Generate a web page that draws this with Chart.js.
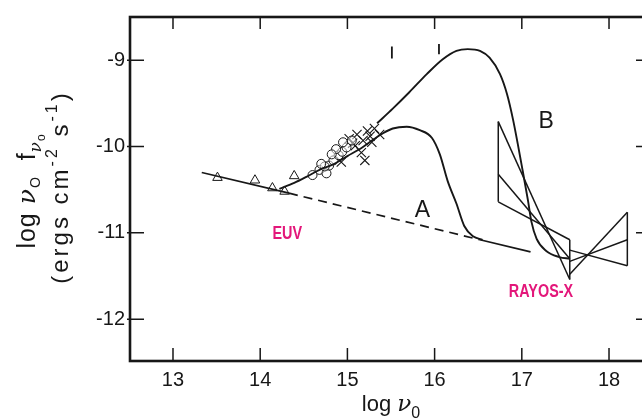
<!DOCTYPE html>
<html>
<head>
<meta charset="utf-8">
<script src="https://cdn.jsdelivr.net/npm/chart.js@4.4.0/dist/chart.umd.min.js"></script>
<style>
  html, body { margin: 0; padding: 0; background: #fff; overflow: hidden; }
  #wrap { width: 660px; height: 418px; }
</style>
</head>
<body>
<div id="wrap"><canvas id="sed"></canvas></div>
<script>
// axis ticks
const xTicks = [13, 14, 15, 16, 17, 18];
const yTicks = [-12, -11, -10, -9];

// straight power law: solid, dashed, solid
const plLeft = [[13.33, -10.30], [14.33, -10.54]];
const plDash = [[14.33, -10.54], [16.52, -11.08]];
const plRight = [[16.52, -11.08], [17.10, -11.22]];

// curve A (lower bump)
const curveA = [[14.22, -10.49], [14.39, -10.42], [14.53, -10.35], [14.68, -10.27], [14.83, -10.21],
  [15.00, -10.11], [15.17, -10.01], [15.31, -9.91], [15.40, -9.85], [15.52, -9.79], [15.68, -9.77],
  [15.83, -9.81], [15.97, -9.90], [16.06, -10.09], [16.15, -10.40], [16.25, -10.66], [16.34, -10.92],
  [16.44, -11.04], [16.55, -11.08]];

// curve B (big bump)
const curveB = [[15.34, -9.73], [15.52, -9.56], [15.71, -9.37], [15.91, -9.16], [16.09, -8.99],
  [16.25, -8.89], [16.38, -8.87], [16.52, -8.89], [16.63, -8.97], [16.75, -9.16], [16.83, -9.39],
  [16.90, -9.69], [17.01, -10.28], [17.07, -10.62], [17.11, -10.87], [17.17, -11.07], [17.28, -11.21],
  [17.43, -11.28], [17.55, -11.30]];

// x-ray bowties
const bowtie1 = [
  [[16.73, -9.71], [16.73, -10.64]],
  [[17.55, -11.08], [17.55, -11.54]],
  [[16.73, -9.71], [17.55, -11.54]],
  [[16.73, -10.64], [17.55, -11.08]],
  [[16.73, -10.32], [17.55, -11.30]]
];
const bowtie2 = [
  [[17.55, -11.48], [18.21, -10.76]],
  [[17.55, -11.20], [18.21, -11.38]],
  [[17.55, -11.33], [18.21, -11.08]],
  [[18.21, -10.76], [18.21, -11.38]]
];

// error bars on top
const errBars = [
  [[15.51, -8.84], [15.51, -8.98]],
  [[16.05, -8.81], [16.05, -8.93]]
];

// data points
const triangles = [[13.51, -10.36], [13.94, -10.39], [14.14, -10.48], [14.28, -10.52], [14.39, -10.34]];
const circles = [[14.60, -10.33], [14.68, -10.27], [14.76, -10.31], [14.79, -10.22], [14.84, -10.16],
  [14.90, -10.10], [14.94, -10.06], [14.99, -10.01], [14.87, -10.03], [14.95, -9.95], [15.05, -9.93],
  [14.74, -10.23], [14.70, -10.20], [14.82, -10.09]];
const crosses = [[15.02, -9.91], [15.11, -9.86], [15.18, -9.93], [15.23, -9.82], [15.31, -9.79],
  [15.37, -9.86], [15.28, -9.95], [15.16, -10.07], [15.20, -10.16], [15.09, -9.99], [14.93, -10.18],
  [15.26, -9.88], [15.06, -9.96]];

const INK = '#171717';
const PINK = '#e3177a';
const pts = a => a.map(([x, y]) => ({ x, y }));

const lineSet = (data, extra) => Object.assign({
  data: pts(data), showLine: true, pointRadius: 0, borderColor: INK, borderWidth: 1.7, fill: false
}, extra || {});

const datasets = [
  lineSet(plLeft),
  lineSet(plDash, { borderDash: [9, 6] }),
  lineSet(plRight),
  lineSet(curveA, { cubicInterpolationMode: 'monotone', borderWidth: 1.9 }),
  lineSet(curveB, { cubicInterpolationMode: 'monotone', borderWidth: 1.9 })
];
bowtie1.concat(bowtie2).forEach(seg => datasets.push(lineSet(seg, { borderWidth: 1.5 })));
errBars.forEach(seg => datasets.push(lineSet(seg, { borderWidth: 1.8 })));
datasets.push({ data: pts(triangles), pointStyle: 'triangle', pointRadius: 5.5, borderColor: INK, backgroundColor: '#fff', borderWidth: 1 });
datasets.push({ data: pts(circles), pointStyle: 'circle', pointRadius: 4.5, borderColor: INK, backgroundColor: 'rgba(255,255,255,0.5)', borderWidth: 1 });
datasets.push({ data: pts(crosses), pointStyle: 'crossRot', pointRadius: 6.5, borderColor: INK, borderWidth: 1.1 });

// draw runs of text with sub/superscripts, centred on the current origin
function drawRuns(ctx, runs, family, spacing) {
  const fontOf = r => (r.it ? 'italic ' : '') + r.s + 'px ' + (r.fam || family);
  let w = 0;
  runs.forEach(r => {
    ctx.font = fontOf(r);
    ctx.letterSpacing = (r.ls != null ? r.ls : spacing) + 'px';
    r.w = ctx.measureText(r.t).width;
    w += r.w;
  });
  let cx = -w / 2;
  runs.forEach(r => {
    ctx.font = fontOf(r);
    ctx.letterSpacing = (r.ls != null ? r.ls : spacing) + 'px';
    ctx.fillText(r.t, cx, r.dy || 0);
    cx += r.w;
  });
}

const NU = '"DejaVu Serif", serif';

const frameAndText = {
  id: 'frameAndText',
  afterDraw(chart) {
    const { ctx, chartArea: { left, right, top, bottom }, scales: { x, y } } = chart;
    ctx.save();
    ctx.strokeStyle = INK;
    ctx.lineWidth = 2.6;
    ctx.strokeRect(left, top, right - left, bottom - top);

    // inward ticks on all four sides
    ctx.lineWidth = 1.5;
    ctx.beginPath();
    xTicks.forEach(v => {
      const px = x.getPixelForValue(v);
      ctx.moveTo(px, bottom); ctx.lineTo(px, bottom - 13);
      ctx.moveTo(px, top); ctx.lineTo(px, top + 12);
    });
    yTicks.forEach(v => {
      const py = y.getPixelForValue(v);
      ctx.moveTo(left - 3, py); ctx.lineTo(left + 14, py);
      ctx.moveTo(right, py); ctx.lineTo(right - 12, py);
    });
    ctx.stroke();

    const fam = '"Liberation Sans", Arial, sans-serif';
    ctx.fillStyle = INK;
    ctx.textBaseline = 'alphabetic';
    ctx.textAlign = 'left';

    // x title
    ctx.save();
    ctx.translate(391, 411);
    drawRuns(ctx, [{ t: 'log ', s: 22 }, { t: 'ν', s: 23, it: true, fam: NU }, { t: '0', s: 16, dy: 7 }], fam, 0);
    ctx.restore();

    // y title, two rotated lines
    ctx.save();
    ctx.translate(35, 191);
    ctx.rotate(-Math.PI / 2);
    drawRuns(ctx, [{ t: 'log ', s: 25 }, { t: 'ν', s: 25, it: true, fam: NU }, { t: 'O', s: 14, dy: 5 },
      { t: '  f', s: 25 }, { t: 'ν', s: 17, dy: 6, it: true, fam: NU }, { t: 'o', s: 12, dy: 10 }], fam, 1);
    ctx.restore();
    ctx.save();
    ctx.translate(68, 187);
    ctx.rotate(-Math.PI / 2);
    drawRuns(ctx, [{ t: '(ergs cm', s: 24 }, { t: '-2', s: 16, dy: -11 }, { t: ' s', s: 24 },
      { t: '-1', s: 16, dy: -11 }, { t: ')', s: 24 }], fam, 3);
    ctx.restore();

    // curve labels
    ctx.letterSpacing = '0px';
    ctx.textAlign = 'center';
    ctx.textBaseline = 'middle';
    ctx.font = '23px ' + fam;
    ctx.fillText('A', x.getPixelForValue(15.86), y.getPixelForValue(-10.74));
    ctx.fillText('B', x.getPixelForValue(17.28), y.getPixelForValue(-9.71));

    // pink condensed labels
    ctx.fillStyle = PINK;
    ctx.font = 'bold 18px ' + fam;
    [['EUV', 14.31, -11.01], ['RAYOS-X', 17.22, -11.69]].forEach(([t, vx, vy]) => {
      ctx.save();
      ctx.translate(x.getPixelForValue(vx), y.getPixelForValue(vy));
      ctx.scale(0.8, 1);
      ctx.fillText(t, 0, 0);
      ctx.restore();
    });
    ctx.restore();
  }
};

const tickFont = { family: '"Liberation Sans", Arial, sans-serif', size: 20 };

new Chart(document.getElementById('sed'), {
  type: 'scatter',
  data: { datasets },
  options: {
    responsive: true,
    maintainAspectRatio: false,
    animation: false,
    layout: { padding: { top: 11, right: 12, left: 0, bottom: 0 } },
    plugins: { legend: { display: false }, tooltip: { enabled: false } },
    scales: {
      x: {
        type: 'linear', min: 12.507, max: 18.447,
        afterBuildTicks: s => { s.ticks = xTicks.map(v => ({ value: v })); },
        afterFit: s => { s.height = 57; },
        grid: { display: false, drawTicks: false },
        border: { display: false },
        ticks: { font: tickFont, color: INK, padding: 7 }
      },
      y: {
        type: 'linear', min: -12.485, max: -8.498,
        afterBuildTicks: s => { s.ticks = yTicks.map(v => ({ value: v })); },
        afterFit: s => { s.width = 130; },
        grid: { display: false, drawTicks: false },
        border: { display: false },
        ticks: { font: tickFont, color: INK, padding: 5 }
      }
    }
  },
  plugins: [frameAndText]
});
</script>
</body>
</html>
